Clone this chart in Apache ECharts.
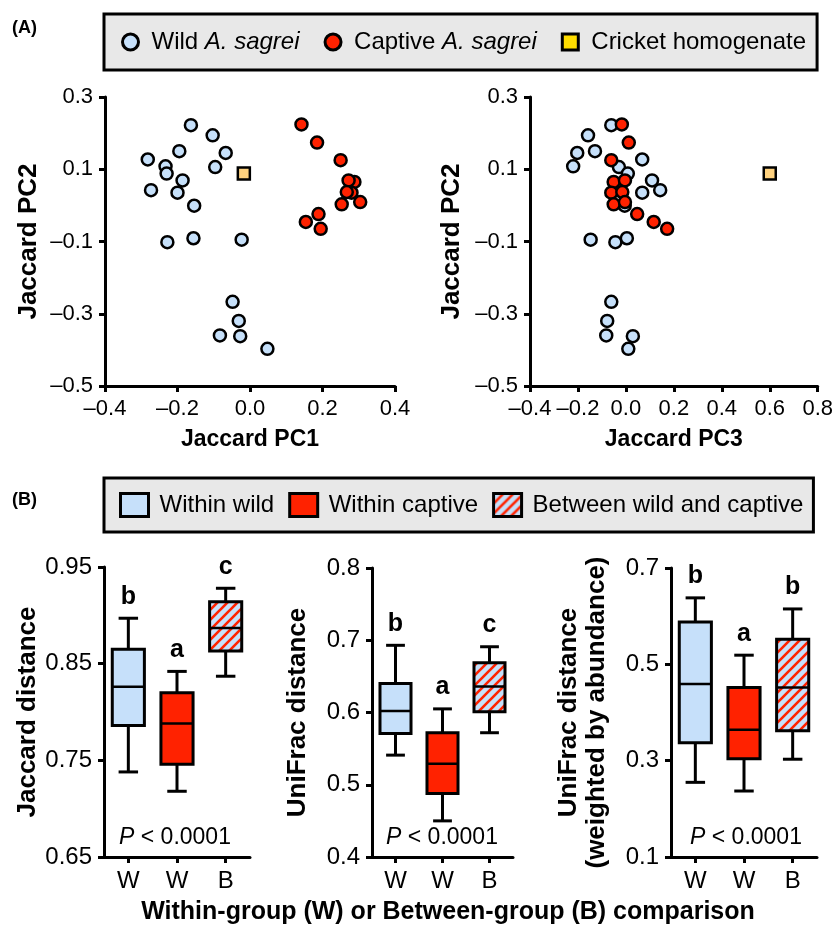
<!DOCTYPE html>
<html lang="en">
<head>
<meta charset="UTF-8">
<title>Wild vs captive A. sagrei</title>
<script src="https://cdn.jsdelivr.net/npm/echarts@6/dist/echarts.min.js"></script>
<style>
    html, body { margin: 0; padding: 0; background: #fff; }
    #main { width: 836px; height: 926px; }
</style>
</head>
<body>
<div id="main"></div>
<script type="text/javascript">
    // (A) Jaccard PCoA scores
    var wildPC1 = [-0.163, -0.103, -0.195, -0.067, -0.282, -0.233, -0.096, -0.230, -0.186, -0.273,
                   -0.200, -0.154, -0.228, -0.156, -0.023, -0.048, -0.031, -0.083, -0.027, 0.048];
    var wildPC2 = [0.222, 0.194, 0.150, 0.145, 0.127, 0.108, 0.106, 0.088, 0.069, 0.042,
                   0.035, -0.001, -0.102, -0.091, -0.095, -0.267, -0.320, -0.360, -0.362, -0.397];
    var wildPC3 = [-0.061, -0.158, -0.129, -0.203, 0.068, -0.220, -0.029, 0.008, 0.109, 0.143,
                   0.068, -0.005, -0.044, 0.004, -0.147, -0.061, -0.078, -0.082, 0.029, 0.010];
    var captivePC1 = [0.142, 0.185, 0.250, 0.288, 0.272, 0.280, 0.267, 0.253, 0.304, 0.189, 0.154, 0.195];
    var captivePC2 = [0.224, 0.174, 0.125, 0.065, 0.069, 0.035, 0.037, 0.003, 0.009, -0.024, -0.046, -0.065];
    var captivePC3 = [-0.017, 0.012, -0.061, -0.051, -0.004, -0.061, -0.015, -0.051, -0.004, 0.047, 0.116, 0.172];
    var cricketPC1 = [-0.017];
    var cricketPC2 = [0.088];
    var cricketPC3 = [0.600];

    // (B) distances: [min, Q1, median, Q3, max]
    var groups = ['Within wild', 'Within captive', 'Between wild and captive'];
    var comparisons = ['W', 'W', 'B'];
    var jaccardBox = [[0.738, 0.786, 0.826, 0.865, 0.897],
                      [0.718, 0.746, 0.788, 0.820, 0.842],
                      [0.837, 0.863, 0.887, 0.914, 0.928]];
    var unifracBox = [[0.541, 0.571, 0.602, 0.640, 0.693],
                      [0.450, 0.488, 0.529, 0.572, 0.605],
                      [0.572, 0.601, 0.636, 0.669, 0.691]];
    var weightedBox = [[0.255, 0.337, 0.459, 0.588, 0.638],
                       [0.237, 0.304, 0.364, 0.452, 0.519],
                       [0.303, 0.362, 0.452, 0.552, 0.615]];
    var jaccardLetters = ['b', 'a', 'c'];
    var unifracLetters = ['b', 'a', 'c'];
    var weightedLetters = ['b', 'a', 'b'];

    var FONT = '"Liberation Sans", Arial, Helvetica, sans-serif';
    var BLUE = '#c6e0fa', RED = '#ff2200', CRICKET = '#ffd27f';

    // red diagonal stripes on light blue
    function makeHatch() {
        var c = document.createElement('canvas');
        c.width = 10; c.height = 10;
        var g = c.getContext('2d');
        g.fillStyle = BLUE;
        g.fillRect(0, 0, 10, 10);
        g.strokeStyle = RED;
        g.lineWidth = 2.6;
        g.beginPath();
        g.moveTo(-2, 12); g.lineTo(12, -2);
        g.moveTo(-2, 2); g.lineTo(2, -2);
        g.moveTo(8, 12); g.lineTo(12, 8);
        g.stroke();
        return c;
    }
    var HATCH = {image: makeHatch(), repeat: 'repeat'};
    var groupFill = [BLUE, RED, HATCH];

    function zip(a, b) {
        return a.map(function (v, i) { return [v, b[i]]; });
    }
    function signed(v) {
        if (Math.abs(v) < 1e-9) return '0.0';
        var s = Math.abs(v).toFixed(1);
        return v < 0 ? '\u2013' + s : s;
    }

    var axisLine = {show: true, onZero: false, lineStyle: {color: '#000', width: 3}};
    var axisTick = {show: true, length: 6, lineStyle: {color: '#000', width: 3}};
    var nameStyle = {fontSize: 23, fontWeight: 'bold', color: '#000', fontFamily: FONT};
    var yNameStyle = {fontSize: 26, fontWeight: 'bold', color: '#000', fontFamily: FONT, lineHeight: 28};

    function valAxis(grid, min, max, step, fmt, size, name, gap, nameTs) {
        return {
            type: 'value', gridIndex: grid, min: min, max: max, interval: step,
            axisLine: axisLine, axisTick: axisTick, splitLine: {show: false},
            axisLabel: {color: '#000', fontSize: size, fontFamily: FONT, margin: 12, formatter: fmt},
            name: name, nameLocation: 'middle', nameGap: gap, nameTextStyle: nameTs || nameStyle
        };
    }

    function scatter(name, grid, data, color, symbol) {
        return {
            name: name, type: 'scatter', xAxisIndex: grid, yAxisIndex: grid,
            data: data, symbol: symbol || 'circle', symbolSize: 12,
            itemStyle: {color: color, borderColor: '#000', borderWidth: 2.5, opacity: 1},
            emphasis: {disabled: true}
        };
    }

    function boxSeries(panel, idx, stats, letter) {
        var fill = groupFill[idx];
        return {
            name: groups[idx], type: 'custom', xAxisIndex: panel + 2, yAxisIndex: panel + 2,
            data: [[idx].concat(stats)],
            encode: {x: 0, y: [1, 2, 3, 4, 5]},
            itemStyle: {color: fill},
            renderItem: function (params, api) {
                var x = api.value(0);
                var lo = api.coord([x, api.value(1)]);
                var q1 = api.coord([x, api.value(2)]);
                var md = api.coord([x, api.value(3)]);
                var q3 = api.coord([x, api.value(4)]);
                var hi = api.coord([x, api.value(5)]);
                var cx = lo[0];
                var band = api.size([1, 0])[0];
                var hw = band * 0.33, cw = band * 0.2;
                var ln = {stroke: '#000', lineWidth: 3};
                return {type: 'group', children: [
                    {type: 'line', shape: {x1: cx, y1: hi[1], x2: cx, y2: lo[1]}, style: ln},
                    {type: 'line', shape: {x1: cx - cw, y1: hi[1], x2: cx + cw, y2: hi[1]}, style: ln},
                    {type: 'line', shape: {x1: cx - cw, y1: lo[1], x2: cx + cw, y2: lo[1]}, style: ln},
                    {type: 'rect', shape: {x: cx - hw, y: q3[1], width: hw * 2, height: q1[1] - q3[1]},
                        style: {fill: fill, stroke: '#000', lineWidth: 3}},
                    {type: 'line', shape: {x1: cx - hw, y1: md[1], x2: cx + hw, y2: md[1]}, style: {stroke: '#000', lineWidth: 2.5}},
                    {type: 'text', x: cx, y: hi[1] - 9,
                        style: {text: letter, align: 'center', verticalAlign: 'bottom', fill: '#000',
                            font: 'bold 25px ' + FONT}}
                ]};
            }
        };
    }

    var myChart = echarts.init(document.getElementById('main'));

    var series = [
        scatter('Wild A. sagrei', 0, zip(wildPC1, wildPC2), BLUE),
        scatter('Captive A. sagrei', 0, zip(captivePC1, captivePC2), RED),
        scatter('Cricket homogenate', 0, zip(cricketPC1, cricketPC2), CRICKET, 'rect'),
        scatter('Wild A. sagrei', 1, zip(wildPC3, wildPC2), BLUE),
        scatter('Captive A. sagrei', 1, zip(captivePC3, captivePC2), RED),
        scatter('Cricket homogenate', 1, zip(cricketPC3, cricketPC2), CRICKET, 'rect')
    ];
    [jaccardBox, unifracBox, weightedBox].forEach(function (box, p) {
        var letters = [jaccardLetters, unifracLetters, weightedLetters][p];
        box.forEach(function (stats, i) { series.push(boxSeries(p, i, stats, letters[i])); });
    });

    function legendText(gap) {
        return {
            fontSize: 24, color: '#000', fontFamily: FONT,
            rich: {
                n: {fontSize: 24, fontFamily: FONT, color: '#000', padding: [0, 0, 0, gap]},
                i: {fontSize: 24, fontFamily: FONT, color: '#000', fontStyle: 'italic'}
            }
        };
    }
    var legendBox = {
        orient: 'horizontal', selectedMode: false, left: 104,
        backgroundColor: '#e8e8e8', borderColor: '#000', borderWidth: 3,
        formatter: function (name) {
            var k = name.indexOf('A. sagrei');
            if (k < 0) return '{n|' + name + '}';
            return '{n|' + name.slice(0, k) + '}{i|A. sagrei}';
        }
    };

    var categoryAxis = function (grid) {
        return {
            type: 'category', gridIndex: grid, data: comparisons,
            axisLine: axisLine,
            axisTick: {show: true, alignWithLabel: true, length: 6, lineStyle: {color: '#000', width: 3}},
            axisLabel: {color: '#000', fontSize: 24, fontFamily: FONT, margin: 12}
        };
    };
    var f2 = function (v) { return v.toFixed(2); };
    var f1 = function (v) { return v.toFixed(1); };

    var option = {
        animation: false,
        textStyle: {fontFamily: FONT},
        grid: [
            {left: 105, top: 97, width: 290, height: 289},
            {left: 530, top: 97, width: 289, height: 289},
            {left: 104, top: 567, width: 146, height: 290},
            {left: 372, top: 568, width: 141, height: 289},
            {left: 671, top: 568, width: 146, height: 289}
        ],
        legend: [
            Object.assign({}, legendBox, {
                top: 14, padding: [16, 11, 16, 17], itemWidth: 16, itemHeight: 16, itemGap: 24,
                textStyle: legendText(8),
                data: [
                    {name: 'Wild A. sagrei', icon: 'circle', itemStyle: {color: BLUE, borderColor: '#000', borderWidth: 3}},
                    {name: 'Captive A. sagrei', icon: 'circle', itemStyle: {color: RED, borderColor: '#000', borderWidth: 3}},
                    {name: 'Cricket homogenate', icon: 'rect', itemStyle: {color: '#ffdd00', borderColor: '#000', borderWidth: 3}}
                ]
            }),
            Object.assign({}, legendBox, {
                top: 478, padding: [14, 10, 14, 15], itemWidth: 28, itemHeight: 23, itemGap: 14,
                textStyle: legendText(6),
                data: groups.map(function (g, i) {
                    return {name: g, icon: 'rect', itemStyle: {color: groupFill[i], borderColor: '#000', borderWidth: 3}};
                })
            })
        ],
        xAxis: [
            valAxis(0, -0.4, 0.4, 0.2, signed, 22, 'Jaccard PC1', 42),
            valAxis(1, -0.4, 0.8, 0.2, signed, 22, 'Jaccard PC3', 42),
            categoryAxis(2), categoryAxis(3), categoryAxis(4)
        ],
        yAxis: [
            valAxis(0, -0.5, 0.3, 0.2, signed, 22, 'Jaccard PC2', 62, yNameStyle),
            valAxis(1, -0.5, 0.3, 0.2, signed, 22, 'Jaccard PC2', 64, yNameStyle),
            valAxis(2, 0.65, 0.95, 0.1, f2, 24, 'Jaccard distance', 61, yNameStyle),
            valAxis(3, 0.4, 0.8, 0.1, f1, 24, 'UniFrac distance', 60, yNameStyle),
            valAxis(4, 0.1, 0.7, 0.2, f1, 24, 'UniFrac distance\n(weighted by abundance)', 60, yNameStyle)
        ],
        graphic: [
            {type: 'text', x: 12, y: 19, style: {text: '(A)', font: 'bold 18px ' + FONT, fill: '#000'}},
            {type: 'text', x: 12, y: 491, style: {text: '(B)', font: 'bold 18px ' + FONT, fill: '#000'}},
            {type: 'text', x: 448, y: 912, style: {text: 'Within-group (W) or Between-group (B) comparison',
                font: 'bold 25px ' + FONT, fill: '#000', align: 'center', verticalAlign: 'middle'}}
        ].concat([175, 442, 746].map(function (px) {
            return {type: 'text', x: px, y: 838, style: {
                text: '{i|P} < 0.0001', align: 'center', verticalAlign: 'middle',
                font: '23px ' + FONT, fill: '#000',
                rich: {i: {fontStyle: 'italic', fontSize: 23, fontFamily: FONT}}
            }};
        })),
        series: series
    };
    myChart.setOption(option);
</script>
</body>
</html>
